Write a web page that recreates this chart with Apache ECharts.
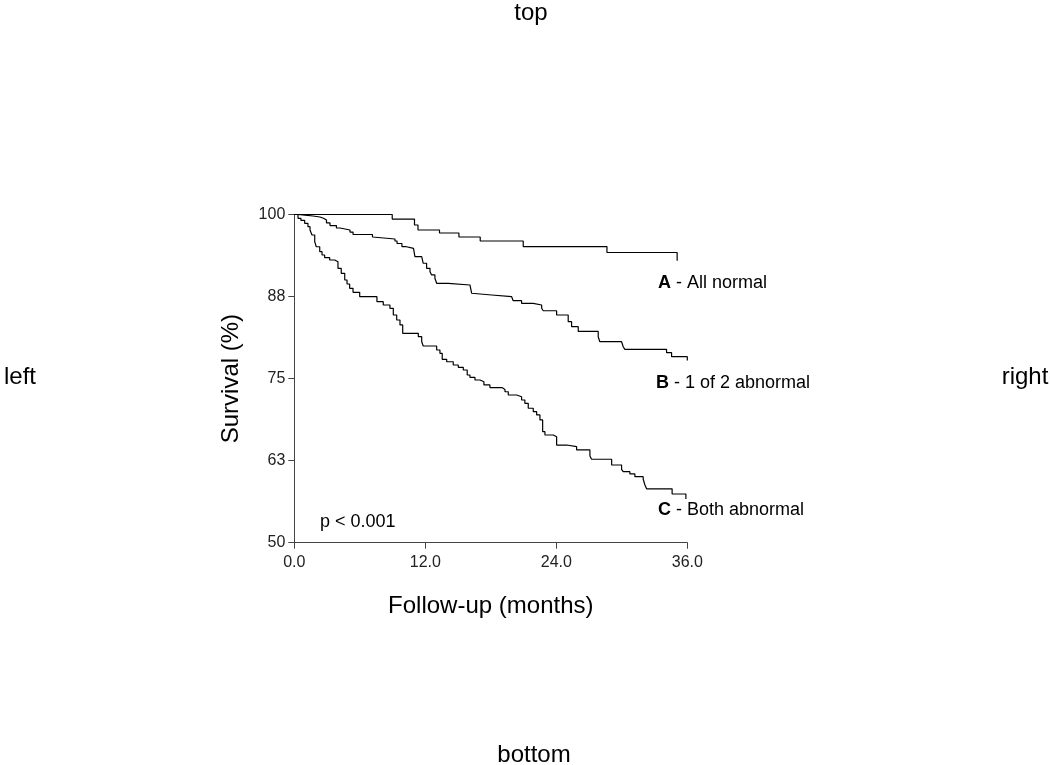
<!DOCTYPE html>
<html>
<head>
<meta charset="utf-8">
<script src="https://cdn.jsdelivr.net/npm/echarts@6/dist/echarts.min.js"></script>
<style>
html,body{margin:0;padding:0;background:#fff;}
#chart{width:1050px;height:765px;}
</style>
</head>
<body>
<div id="chart"></div>
<script>
// Kaplan-Meier step points: month of event and survival (%) after it
var monthsA = [0, 8.97, 11.01, 11.33, 13.30, 15.08, 17.03, 20.97, 28.64, 35.07];
var survA   = [100, 99.31, 98.40, 97.64, 97.18, 96.57, 95.96, 95.12, 94.21, 92.96];

var monthsB = [0, 0.34, 0.98, 1.71, 2.35, 2.67, 2.95, 3.27, 3.86, 4.19, 5.10, 5.38, 7.16, 7.25, 9.22, 9.41, 9.86, 10.18, 10.92, 11.05, 11.67, 11.81, 12.12, 12.43, 12.58, 12.88, 13.04, 14.10, 16.09, 16.25, 16.39, 18.08, 19.91, 20.05, 20.82, 21.89, 22.66, 22.80, 24.03, 25.09, 25.40, 26.01, 27.84, 27.99, 29.98, 30.13, 30.28, 34.10, 34.56, 36.0];
var survB   = [100, 99.89, 99.77, 99.62, 99.42, 99.16, 98.71, 98.32, 97.94, 97.64, 97.33, 96.95, 96.57, 96.27, 95.96, 95.58, 95.12, 94.85, 94.59, 93.57, 93.33, 92.57, 91.80, 91.29, 90.79, 90.28, 89.52, 89.26, 89.00, 88.00, 87.74, 87.48, 87.23, 86.87, 86.47, 86.21, 85.71, 85.34, 84.69, 83.67, 82.91, 82.18, 81.38, 80.62, 80.38, 79.86, 79.46, 78.95, 78.34, 77.76];

var monthsC = [0, 0.34, 0.61, 0.95, 1.25, 1.44, 1.62, 1.87, 2.01, 2.33, 2.54, 2.78, 3.24, 3.70, 4.00, 4.30, 4.62, 4.83, 5.07, 5.38, 5.99, 7.57, 8.15, 8.76, 9.07, 9.38, 9.68, 9.93, 11.36, 11.67, 11.81, 13.04, 13.34, 13.55, 13.96, 14.56, 15.02, 15.48, 15.84, 16.09, 16.55, 17.01, 17.37, 17.92, 19.02, 19.30, 19.60, 20.37, 20.82, 21.12, 21.43, 21.89, 22.20, 22.50, 22.75, 22.96, 23.72, 24.03, 24.95, 25.86, 27.08, 27.23, 29.07, 29.98, 30.13, 30.74, 31.20, 31.96, 32.12, 32.27, 34.61, 35.87];
var survC   = [100, 99.42, 99.09, 98.66, 98.14, 97.64, 96.88, 95.86, 95.09, 94.33, 93.83, 93.42, 93.07, 92.81, 91.80, 91.04, 90.02, 89.41, 88.76, 88.15, 87.48, 86.72, 86.21, 85.71, 84.69, 83.93, 83.17, 81.90, 81.38, 80.62, 79.97, 79.36, 78.85, 77.94, 77.57, 77.07, 76.72, 76.31, 75.55, 75.20, 74.79, 74.53, 74.03, 73.64, 73.34, 73.00, 72.50, 72.24, 71.74, 71.24, 70.48, 69.96, 69.46, 68.70, 66.91, 66.41, 66.15, 64.88, 64.63, 64.13, 63.21, 62.71, 61.84, 61.18, 60.82, 60.47, 60.06, 59.66, 58.79, 58.21, 57.42, 56.66];

var xTicks = [0, 12, 24, 36];
var yTicks = [50, 62.5, 75, 87.5, 100];

function pairs(xs, ys) { return xs.map(function (x, i) { return [x, ys[i]]; }); }

var chart = echarts.init(document.getElementById('chart'), null, { renderer: 'canvas' });
var FONT = 'Liberation Sans, Arial, sans-serif';
var lineStyle = { color: '#000', width: 1.2 };

function edgeText(txt, x, y) {
  return { type: 'text', x: x, y: y,
    style: { text: txt, font: '24px ' + FONT, fill: '#000', align: 'center', verticalAlign: 'middle' } };
}
function curveLabel(letter, rest, x, y) {
  return { type: 'text', x: x, y: y,
    style: { text: '{b|' + letter + '}' + rest, font: '18px ' + FONT, fill: '#000', verticalAlign: 'middle',
      rich: { b: { fontWeight: 'bold', fontSize: 18, fontFamily: FONT } } } };
}

chart.setOption({
  animation: false,
  backgroundColor: '#fff',
  textStyle: { fontFamily: FONT },
  grid: { left: 294.3, right: 362.7, top: 214.5, bottom: 222.3, containLabel: false },
  xAxis: {
    type: 'value', min: xTicks[0], max: xTicks[xTicks.length - 1], interval: 12,
    name: 'Follow-up (months)', nameLocation: 'middle', nameGap: 52,
    nameTextStyle: { fontSize: 24, color: '#000', fontFamily: FONT },
    axisLine: { onZero: false, lineStyle: { color: '#444', width: 1 } },
    axisTick: { show: true, length: 6, lineStyle: { color: '#444' } },
    axisLabel: { margin: 12, fontSize: 16, color: '#222', fontFamily: FONT,
      formatter: function (v) { return v.toFixed(1); } },
    splitLine: { show: false }
  },
  yAxis: {
    type: 'value', min: yTicks[0], max: yTicks[yTicks.length - 1], interval: 12.5,
    name: 'Survival (%)', nameLocation: 'middle', nameGap: 51, nameRotate: 90,
    nameTextStyle: { fontSize: 24, color: '#000', fontFamily: FONT },
    axisLine: { show: true, lineStyle: { color: '#444', width: 1 } },
    axisTick: { show: true, length: 6, lineStyle: { color: '#444' } },
    axisLabel: { margin: 9, fontSize: 16, color: '#222', fontFamily: FONT,
      formatter: function (v) { return String(Math.round(v)); } },
    splitLine: { show: false }
  },
  series: [
    { name: 'A', type: 'line', step: 'end', showSymbol: false, data: pairs(monthsA, survA), lineStyle: lineStyle },
    { name: 'B', type: 'line', step: 'end', showSymbol: false, data: pairs(monthsB, survB), lineStyle: lineStyle },
    { name: 'C', type: 'line', step: 'end', showSymbol: false, data: pairs(monthsC, survC), lineStyle: lineStyle }
  ],
  graphic: [
    edgeText('top', 531, 13),
    edgeText('bottom', 534, 755),
    edgeText('left', 20, 377),
    edgeText('right', 1025, 377),
    { type: 'text', x: 320, y: 522,
      style: { text: 'p < 0.001', font: '18px ' + FONT, fill: '#000', verticalAlign: 'middle' } },
    curveLabel('A', ' - All normal', 658, 283),
    curveLabel('B', ' - 1 of 2 abnormal', 656, 383),
    curveLabel('C', ' - Both abnormal', 658, 510)
  ]
});
</script>
</body>
</html>
